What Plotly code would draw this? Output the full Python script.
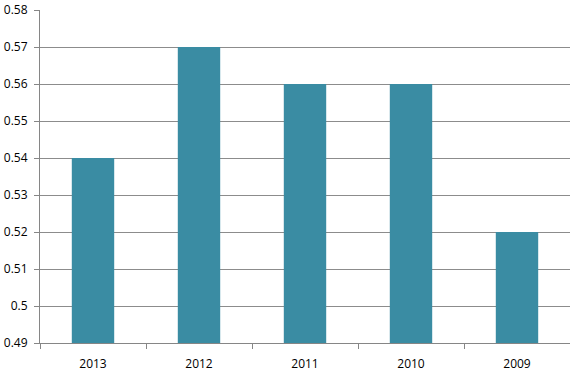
import plotly.graph_objects as go

years = ["2013", "2012", "2011", "2010", "2009"]
values = [0.54, 0.57, 0.56, 0.56, 0.52]
y_ticks = [0.49, 0.50, 0.51, 0.52, 0.53, 0.54, 0.55, 0.56, 0.57, 0.58]
y_tick_labels = ["0.49", "0.5", "0.51", "0.52", "0.53", "0.54", "0.55", "0.56", "0.57", "0.58"]

fig = go.Figure(go.Bar(x=years, y=values, marker=dict(color="#3A8CA3", line=dict(width=0)), width=0.4))

fig.update_layout(
    width=570, height=375,
    margin=dict(l=40, r=0, t=10, b=32),
    plot_bgcolor="white", paper_bgcolor="white",
    font=dict(family="Open Sans, Liberation Sans, sans-serif", size=12, color="#000000"),
    showlegend=False,
    bargap=0.6,
)
fig.update_xaxes(
    type="category", range=[-0.5, 4.5],
    showline=True, linecolor="#868686", linewidth=1,
    ticks="outside", tickson="boundaries", ticklen=5, tickcolor="#868686",
    showgrid=False, tickfont=dict(size=12), ticklabelstandoff=10,
)
fig.update_yaxes(
    range=[0.49, 0.58], tickvals=y_ticks, ticktext=y_tick_labels,
    showline=True, linecolor="#868686", linewidth=1,
    ticks="outside", ticklen=5, tickcolor="#868686",
    showgrid=True, gridcolor="#8C8C8C", gridwidth=1,
    zeroline=False, tickfont=dict(size=12), ticklabelstandoff=4,
)

fig.write_html("out.html")
